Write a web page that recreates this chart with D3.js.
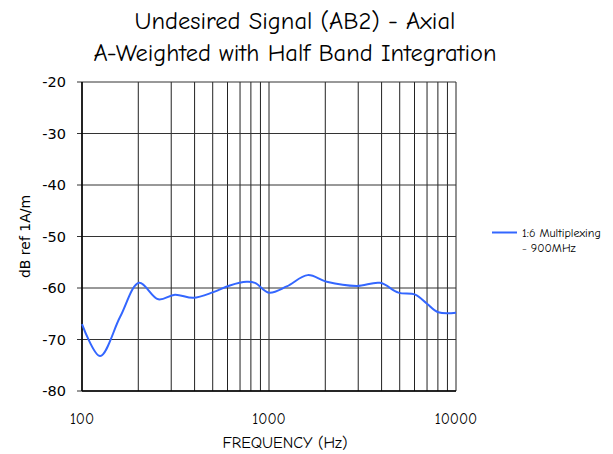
<!DOCTYPE html>
<html>
<head>
<meta charset="utf-8">
<script src="https://cdn.jsdelivr.net/npm/d3@7"></script>
<style>
  body { margin: 0; background: #fff; }
  text { font-family: "Comic Sans MS", "Comic Neue", "Open Sans", sans-serif; fill: #000; }
  text.sans { font-family: "DejaVu Sans", Verdana, sans-serif; }
</style>
</head>
<body>
<svg width="613" height="454"></svg>
<script>
// chart data
var titleLines = ["Undesired Signal (AB2) - Axial", "A-Weighted with Half Band Integration"];
var seriesName = ["1:6 Multiplexing", "- 900MHz"];
var freq = [100, 125, 160, 202, 256, 314, 394, 504, 618, 759, 841, 1000, 1244, 1611, 2036, 2945, 3924, 4921, 6046, 6973, 8040, 10000];
var level = [-67.0, -73.2, -65.6, -59.0, -62.2, -61.3, -61.9, -60.8, -59.5, -58.8, -59.0, -60.9, -59.7, -57.5, -58.8, -59.6, -59.0, -60.9, -61.3, -63.0, -64.7, -64.8];
var yTicks = [-80, -70, -60, -50, -40, -30, -20];
var xTicks = [100, 1000, 10000];

var svg = d3.select("svg");
// plot box (note: "top" is taken by window.top, so use plotTop)
var plotLeft = 82, plotRight = 456, plotTop = 82, plotBottom = 391;

var x = d3.scaleLog().domain([100, 10000]).range([plotLeft, plotRight]);
var y = d3.scaleLinear().domain([-80, -20]).range([plotBottom, plotTop]);

// vertical grid: every 100 to 1000, every 1000 to 10000
var vgrid = [];
for (var d = 100; d <= 10000; d *= 10) {
    for (var k = 1; k <= 9; k++) {
        if (d * k <= 10000) vgrid.push(d * k);
    }
}
svg.append("g").selectAll("line").data(vgrid).enter()
    .append("line")
    .attr("x1", function(v) { return x(v); })
    .attr("x2", function(v) { return x(v); })
    .attr("y1", plotTop).attr("y2", plotBottom)
    .attr("stroke", "#222").attr("stroke-width", 1);

svg.append("g").selectAll("line").data(yTicks).enter()
    .append("line")
    .attr("x1", plotLeft - 5).attr("x2", plotRight)
    .attr("y1", function(v) { return y(v); })
    .attr("y2", function(v) { return y(v); })
    .attr("stroke", "#333").attr("stroke-width", 1);

// axis lines
svg.append("line").attr("x1", plotLeft).attr("x2", plotLeft).attr("y1", plotTop).attr("y2", plotBottom)
    .attr("stroke", "#000").attr("stroke-width", 1.5);
svg.append("line").attr("x1", plotLeft).attr("x2", plotRight).attr("y1", plotBottom).attr("y2", plotBottom)
    .attr("stroke", "#000").attr("stroke-width", 1.5);

// tick labels
svg.append("g").selectAll("text").data(yTicks).enter()
    .append("text")
    .attr("class", "sans")
    .attr("x", plotLeft - 16)
    .attr("y", function(v) { return y(v) + 5; })
    .attr("text-anchor", "end")
    .attr("font-size", 14.5)
    .text(function(v) { return v; });

svg.append("g").selectAll("text").data(xTicks).enter()
    .append("text")
    .attr("x", function(v) { return x(v); })
    .attr("y", 424)
    .attr("text-anchor", "middle")
    .attr("font-size", 15)
    .text(function(v) { return v; });

// axis titles
svg.append("text").attr("x", 285).attr("y", 448)
    .attr("text-anchor", "middle").attr("font-size", 16)
    .text("FREQUENCY (Hz)");
svg.append("text")
    .attr("class", "sans")
    .attr("transform", "translate(30,236.5) rotate(-90)")
    .attr("text-anchor", "middle").attr("font-size", 14)
    .text("dB ref 1A/m");

// title
svg.append("g").selectAll("text").data(titleLines).enter()
    .append("text")
    .attr("x", 295)
    .attr("y", function(t, i) { return 28.5 + i * 32.5; })
    .attr("text-anchor", "middle")
    .attr("font-size", 24.5)
    .text(function(t) { return t; });

// the curve
var pts = freq.map(function(f, i) { return [f, level[i]]; });
var line = d3.line()
    .x(function(p) { return x(p[0]); })
    .y(function(p) { return y(p[1]); })
    .curve(d3.curveCatmullRom.alpha(0.5));
svg.append("path").datum(pts)
    .attr("d", line)
    .attr("fill", "none")
    .attr("stroke", "#3366ff")
    .attr("stroke-width", 2);

// legend
svg.append("line").attr("x1", 492).attr("x2", 517).attr("y1", 232.5).attr("y2", 232.5)
    .attr("stroke", "#3366ff").attr("stroke-width", 2);
svg.append("g").selectAll("text").data(seriesName).enter()
    .append("text")
    .attr("x", 522)
    .attr("y", function(t, i) { return 237 + i * 15; })
    .attr("font-size", 12)
    .text(function(t) { return t; });
</script>
</body>
</html>
